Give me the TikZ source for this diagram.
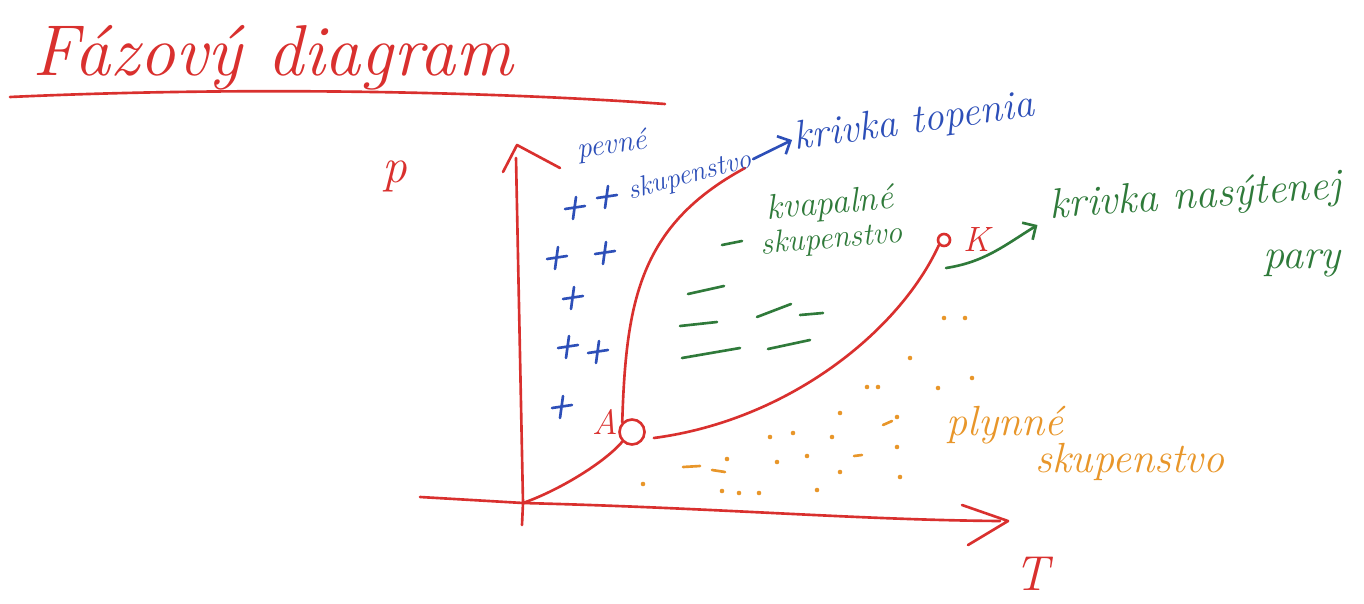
\documentclass[tikz,border=0pt]{standalone}
\usepackage{tikz}
\usetikzlibrary{arrows.meta,positioning,calc}
\definecolor{PhRed}{HTML}{D9302E}
\definecolor{PhBlue}{HTML}{2D4FB8}
\definecolor{PhGreen}{HTML}{2F7A3A}
\definecolor{PhOrange}{HTML}{E8962A}
\tikzset{
  ink/.style={line width=1.5pt,line cap=round,line join=round},
  hand/.style={font=\fontsize{20}{22}\selectfont\itshape,inner sep=1pt},
  bighand/.style={font=\fontsize{41}{45}\selectfont\itshape,inner sep=1pt},
  pt/.style={circle,draw,ink,inner sep=0pt},
}

\begin{document}
\begin{tikzpicture}[x=0.02cm,y=-0.02cm]
    \useasboundingbox (0,0) rectangle (1364,604);
    % title
    \node[bighand,PhRed,anchor=base west] (title) at (30,76) {Fázový diagram};
    \draw[ink,PhRed] (10,97) .. controls (250,86) and (500,92) .. (665,104);
    % axes
    \coordinate (O) at (523,503);
    \coordinate (ytip) at (517,145);
    \coordinate (xtip) at (1008,521);
    \draw[ink,PhRed] (522,525) -- (O) -- (516,158);
    \draw[ink,PhRed] ($(ytip)+(-14,27)$) -- (ytip) -- ($(ytip)+(43,23)$);
    \draw[ink,PhRed] (420,497) -- (O) .. controls (720,508) and (860,520) .. (1000,521);
    \draw[ink,PhRed] ($(xtip)+(-46,-16)$) -- (xtip) -- ($(xtip)+(-40,24)$);
    \node[hand,PhRed,font=\fontsize{28}{30}\selectfont\itshape] (p) at (395,176) {p};
    \node[hand,PhRed,font=\fontsize{28}{30}\selectfont\itshape] (T) at (1032,574) {T};
    % triple and critical point
    \node[pt,PhRed,minimum size=0.5cm] (A) at (632,432) {};
    \node[hand,PhRed,left=1pt of A.north west,anchor=east] (Alab) {A};
    \node[pt,PhRed,minimum size=0.24cm] (K) at (944,240) {};
    \node[hand,PhRed,right=6pt of K] (Klab) {K};
    % phase boundaries
    \coordinate (meltend) at (745,168);
    \draw[ink,PhRed] (O) .. controls (560,490) and (605,462) .. (A.south west);
    \draw[ink,PhRed] (A.north west) .. controls (626,300) and (640,225) .. (meltend);
    \draw[ink,PhRed] ($(A.east)+(8,6)$) .. controls (790,420) and (900,330) .. (K.south west);
    % solid
    \node[hand,PhBlue,font=\fontsize{17}{19}\selectfont\itshape,rotate=8] (pevne) at (612,146) {pevné};
    \node[hand,PhBlue,font=\fontsize{16}{18}\selectfont\itshape,rotate=15] (solid) at (690,176) {skupenstvo};
    \node[hand,PhBlue,font=\fontsize{23}{25}\selectfont\itshape,rotate=8,anchor=west] (topenia) at (792,140) {krivka topenia};
    \draw[ink,PhBlue,-{Straight Barb[length=2mm]}] (solid.east) -- (topenia.west);
    \foreach \x/\y in {575/208,607/197,557/258,605/253,573/298,568/347,598/352,562/407}{
      \draw[ink,PhBlue] (\x-10,\y+1) -- (\x+10,\y-2) (\x+1,\y-11) -- (\x-2,\y+11);
    }
    % liquid
    \node[hand,PhGreen,rotate=5] (kvap) at (830,205) {kvapalné};
    \node[hand,PhGreen,font=\fontsize{18}{20}\selectfont\itshape,rotate=5] (liquid) at (832,240) {skupenstvo};
    \draw[ink,PhGreen] (722,245) -- (742,241);
    \foreach \a/\b/\c/\d in {688/294/724/286,680/326/717/322,757/317/791/304,
        800/315/823/313,682/358/740/348,768/349/810/340}{
      \draw[ink,PhGreen] (\a,\b) -- (\c,\d);
    }
    \node[hand,PhGreen,font=\fontsize{24}{26}\selectfont\itshape,rotate=4,anchor=west] (nasyt) at (1048,208) {krivka nasýtenej};
    \node[hand,PhGreen,font=\fontsize{24}{26}\selectfont\itshape] (pary) at (1302,264) {pary};
    \draw[ink,PhGreen,-{Straight Barb[length=2mm]}] ($(K)+(2,28)$) .. controls (985,262) and (1005,245) .. ($(nasyt.south west)+(-12,-4)$);
    % gas
    \node[hand,PhOrange,font=\fontsize{24}{26}\selectfont\itshape] (plyn) at (1005,425) {plynné};
    \node[hand,PhOrange,font=\fontsize{24}{26}\selectfont\itshape] (gas) at (1130,462) {skupenstvo};
    \foreach \x/\y in {867/387,878/387,840/413,897/417,770/437,793/433,832/437,807/456,
        777/462,897/447,840/472,900/477,727/459,643/484,722/491,739/493,759/493,817/490,
        910/358,938/388,965/318,972/378,944/318}{
      \fill[PhOrange] (\x,\y) circle (1.3pt);
    }
    \foreach \a/\b/\c/\d in {683/467/700/466,712/470/725/472,883/425/892/421,854/456/862/455}{
      \draw[ink,PhOrange] (\a,\b) -- (\c,\d);
    }
\end{tikzpicture}
\end{document}
